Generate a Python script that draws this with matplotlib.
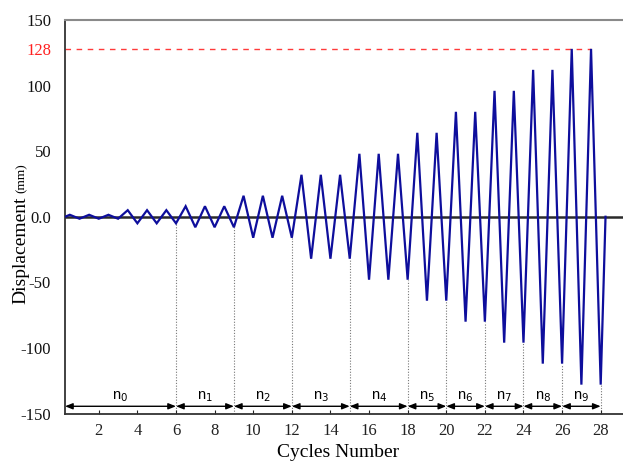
import matplotlib
matplotlib.use("Agg")
import matplotlib.pyplot as plt
import numpy as np

# ---- data ----
# amplitude (mm) of each loading cycle, cycles 1..28
amplitudes = [1.5, 1.5, 1.5, 5, 5, 5,
              8, 8, 8,
              16, 16, 16,
              32, 32, 32,
              48, 48, 48,
              64, 64,
              80, 80,
              96, 96,
              112, 112,
              128, 128]
start_cycle = 0.25
end_cycle = 28.25
group_bounds = [0.25, 6, 9, 12, 15, 18, 20, 22, 24, 26, 28]
group_labels = ["n$_0$", "n$_1$", "n$_2$", "n$_3$", "n$_4$",
                "n$_5$", "n$_6$", "n$_7$", "n$_8$", "n$_9$"]
max_disp = 128
y_ticks = [150, 128, 100, 50, 0, -50, -100, -150]
y_ticklabels = ["150", "128", "100", "50", "0.0", "-50", "-100", "-150"]
x_ticks = list(range(2, 29, 2))

# ---- build zigzag history ----
xs = [start_cycle]
ys = [0.0]
for i, a in enumerate(amplitudes, start=1):
    xs += [i - 0.5, i]
    ys += [a, -a]
xs.append(end_cycle)
ys.append(0.0)

plt.rcParams['mathtext.fontset'] = 'dejavusans'
serif = 'Liberation Serif'

fig = plt.figure(figsize=(6.23, 4.62), dpi=100)
ax = fig.add_axes([65/623, 1 - 413.5/462, 1 - 65/623 + 0.002, (413.5 - 20)/462])

ax.set_xlim(0.25, 29.22)
ax.set_ylim(-150, 150)

# zero line
ax.axhline(0, color='#2a2a2a', lw=1.8, zorder=2)
# dashed max line
ax.plot([start_cycle, 27.5], [max_disp, max_disp], color='#ff3a3a', lw=1.0,
        dashes=(4, 4), zorder=2)

# dotted verticals at group boundaries
for b in group_bounds[1:]:
    trough = -amplitudes[int(b) - 1]
    ax.plot([b, b], [-150, trough], color='#777777', lw=0.8, ls=(0, (1, 1.5)), zorder=1)

ax.plot(xs, ys, color='#0e0e9c', lw=1.6, zorder=3, solid_joinstyle='miter')

# arrows and labels
for (a0, a1), lab in zip(zip(group_bounds[:-1], group_bounds[1:]), group_labels):
    ax.annotate("", xy=(a1, -144.5), xytext=(a0, -144.5),
                arrowprops=dict(arrowstyle='<|-|>,head_length=0.45,head_width=0.18',
                                color='black', lw=1.0, shrinkA=0, shrinkB=0))
    ax.text((a0 + a1) / 2, -137.5, lab, ha='center', va='center',
            fontsize=10.5, family='Liberation Sans')

# spines
for s in ['left', 'bottom']:
    ax.spines[s].set_color('#333333')
    ax.spines[s].set_linewidth(1.3)
ax.spines['top'].set_color('#8a8a8a')
ax.spines['top'].set_linewidth(1.5)
ax.spines['right'].set_visible(False)

ax.set_xticks(x_ticks)
ax.set_xticklabels([str(t) for t in x_ticks], fontsize=12, family=serif)
ax.tick_params(axis='x', direction='in', length=3, width=0.8, pad=7, colors='#222222')
ax.set_yticks(y_ticks)
ax.set_yticklabels(y_ticklabels, fontsize=12, family=serif)
ax.tick_params(axis='y', length=0, pad=10)
for lbl in ax.get_yticklabels():
    lbl.set_color('#ff2020' if lbl.get_text() == "128" else '#111111')

# axis labels
fig.text(338/623, 1 - 457/462, "Cycles Number", ha='center', va='baseline',
         fontsize=14, family=serif)
fig.text(25/623, 1 - 304/462, "Displacement", rotation=90, rotation_mode='anchor',
         ha='left', va='baseline', fontsize=14, family=serif)
fig.text(25/623, 1 - 193/462, "(mm)", rotation=90, rotation_mode='anchor',
         ha='left', va='baseline', fontsize=9.5, family=serif)

fig.savefig("out.png", dpi=100)
